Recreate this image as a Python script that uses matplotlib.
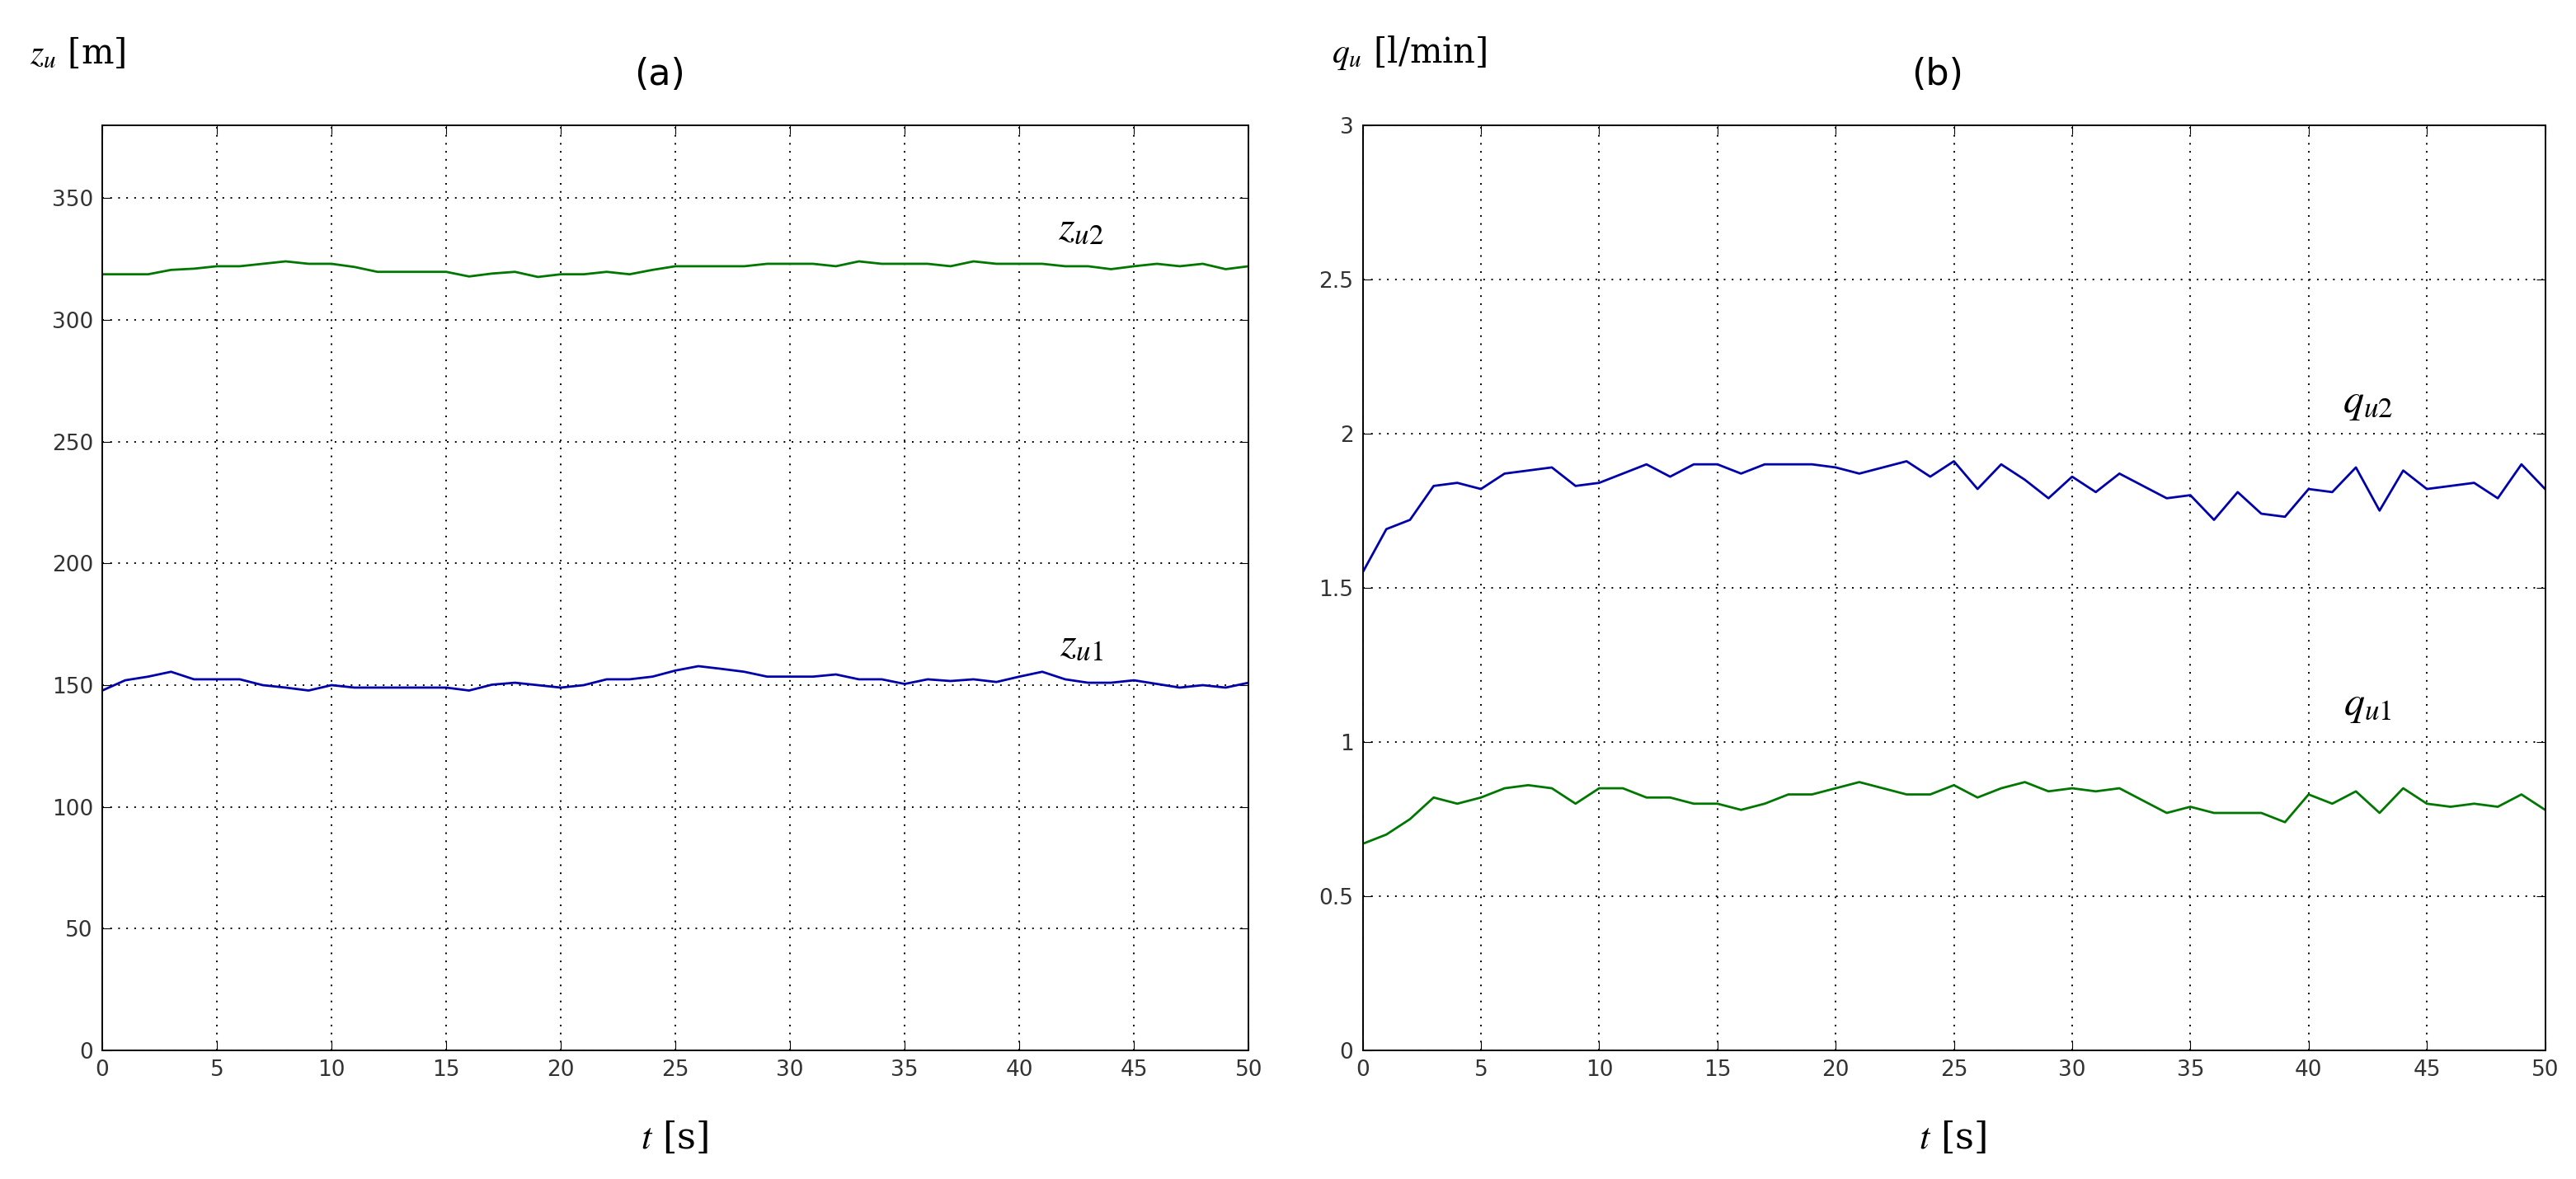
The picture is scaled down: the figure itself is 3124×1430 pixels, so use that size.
import matplotlib
matplotlib.use("Agg")
import matplotlib.pyplot as plt
import numpy as np

t = list(range(51))
z_u1 = [147.8,152,153.5,155.5,152.4,152.4,152.4,150,149,147.8,150,149,149,149,149,149,147.8,150.2,151,150,
        149,150,152.4,152.4,153.5,156,157.8,156.7,155.5,153.5,153.5,153.5,154.4,152.4,152.4,150.5,152.4,151.7,152.4,151.3,
        153.5,155.5,152.4,151,151,152,150.5,149,150,149,151]
z_u2 = [318.7,318.7,318.7,320.5,321,322,322,323,324,323,323,321.7,319.7,319.7,319.7,319.7,317.8,319,319.7,317.6,
        318.7,318.7,319.7,318.7,320.5,322,322,322,322,323,323,323,322,324,323,323,323,322,324,323,
        323,323,322,322,320.8,322,323,322,323,320.8,322]
q_u1 = [0.67,0.70,0.75,0.82,0.80,0.82,0.85,0.86,0.85,0.80,0.85,0.85,0.82,0.82,0.80,0.80,0.78,0.80,0.83,0.83,
        0.85,0.87,0.85,0.83,0.83,0.86,0.82,0.85,0.87,0.84,0.85,0.84,0.85,0.81,0.77,0.79,0.77,0.77,0.77,0.74,
        0.83,0.80,0.84,0.77,0.85,0.80,0.79,0.80,0.79,0.83,0.78]
q_u2 = [1.55,1.69,1.72,1.83,1.84,1.82,1.87,1.88,1.89,1.83,1.84,1.87,1.90,1.86,1.90,1.90,1.87,1.90,1.90,1.90,
        1.89,1.87,1.89,1.91,1.86,1.91,1.82,1.90,1.85,1.79,1.86,1.81,1.87,1.83,1.79,1.80,1.72,1.81,1.74,1.73,
        1.82,1.81,1.89,1.75,1.88,1.82,1.83,1.84,1.79,1.90,1.82]

plt.rcParams['mathtext.fontset'] = 'stix'
fig = plt.figure(figsize=(31.24, 14.30), dpi=100)
axa = fig.add_axes([0.0397, 0.109, 0.445, 0.785])
axb = fig.add_axes([0.529, 0.109, 0.459, 0.785])

blue = '#0000aa'
green = '#007700'
axa.plot(t, z_u1, color=blue, lw=2)
axa.plot(t, z_u2, color=green, lw=2)
axb.plot(t, q_u1, color=green, lw=2)
axb.plot(t, q_u2, color=blue, lw=2)

axa.set_xlim(0, 50); axa.set_ylim(0, 380)
axa.set_yticks(np.arange(0, 351, 50))
axb.set_xlim(0, 50); axb.set_ylim(0, 3)
axb.set_yticks(np.arange(0, 3.01, 0.5))
axb.set_yticklabels(['0', '0.5', '1', '1.5', '2', '2.5', '3'])
for ax in (axa, axb):
    ax.set_xticks(range(0, 51, 5))
    ax.grid(True, color='black', linestyle=(0, (1, 4)), linewidth=1.4)
    ax.tick_params(labelsize=19, direction='in', length=8, top=True, right=True,
                   labelcolor='#333333', pad=8)
    for s in ax.spines.values():
        s.set_linewidth(1.4)

axa.text(42.7, 338, r'$z_{u2}$', fontsize=36, ha='center', va='center')
axa.text(42.7, 167, r'$z_{u1}$', fontsize=36, ha='center', va='center')
axb.text(42.5, 2.1, r'$q_{u2}$', fontsize=36, ha='center', va='center')
axb.text(42.5, 1.12, r'$q_{u1}$', fontsize=36, ha='center', va='center')

fig.text(0.0115, 0.955, r'$z_u$ [m]', fontsize=30, ha='left', va='center', family='serif')
fig.text(0.517, 0.955, r'$q_u$ [l/min]', fontsize=30, ha='left', va='center', family='serif')
fig.text(0.256, 0.937, '(a)', fontsize=32, ha='center', va='center')
fig.text(0.752, 0.937, '(b)', fontsize=32, ha='center', va='center')
fig.text(0.262, 0.035, r'$t$ [s]', fontsize=32, ha='center', va='center', family='serif')
fig.text(0.758, 0.035, r'$t$ [s]', fontsize=32, ha='center', va='center', family='serif')

fig.savefig('out.png', dpi=100)
